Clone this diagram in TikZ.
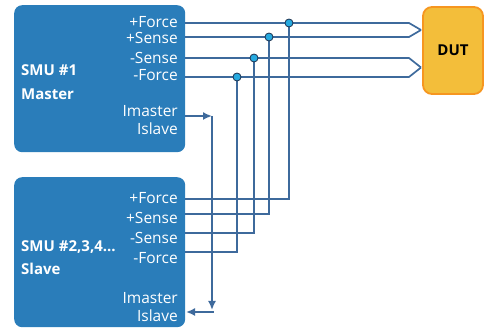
\documentclass[tikz,border=0pt]{standalone}
\usepackage{fontspec}
\setmainfont{Open Sans}
\usetikzlibrary{arrows.meta}
\definecolor{smublue}{RGB}{42,125,186}
\definecolor{wireblue}{RGB}{62,106,156}
\definecolor{dotcyan}{RGB}{38,170,224}
\definecolor{dotnavy}{RGB}{28,48,78}
\definecolor{dutyellow}{RGB}{243,190,58}
\definecolor{dutorange}{RGB}{246,150,32}

\begin{document}
\begin{tikzpicture}[x=1pt, y=-1pt,
    smu/.style={fill=smublue, rounded corners=8pt, anchor=north west, inner sep=0pt, minimum width=171pt},
    port/.style={anchor=base east, text=white, inner sep=0pt, font=\fontsize{15.5}{17}\selectfont},
    title/.style={anchor=base west, text=white, inner sep=0pt, font=\bfseries\fontsize{15}{17}\selectfont},
    wire/.style={draw=wireblue, line width=1.7pt},
    arrowwire/.style={wire, -{Latex[length=9pt,width=8pt]}},
    junction/.style={circle, fill=dotcyan, draw=dotnavy, line width=0.8pt, minimum size=8pt, inner sep=0pt}]
    \useasboundingbox (0,0) rectangle (485,328);

    % boxes
    \node[smu, minimum height=147pt] (M) at (14,5) {};
    \node[smu, minimum height=150pt] (S) at (14,177) {};
    \node[draw=dutorange, fill=dutyellow, line width=1.8pt, rounded corners=9pt,
          minimum width=60pt, minimum height=87pt, font=\bfseries\fontsize{15}{17}\selectfont] (dut) at (453,50.5) {DUT};

    % master labels
    \node[title] (mt1) at (21,75.7) {SMU \#1};
    \node[title] (mt2) at (21,99.3) {Master};
    \node[port] (mpfl) at (178,27.3) {+Force};
    \node[port] (mspl) at (178,43.8) {+Sense};
    \node[port] (msnl) at (178,63.3) {-Sense};
    \node[port] (mfnl) at (178,81) {-Force};
    \node[port] (miml) at (178,116.7) {Imaster};
    \node[port] (misl) at (178,135) {Islave};

    % slave labels
    \node[title] (st1) at (21,251.7) {SMU \#2,3,4...};
    \node[title] (st2) at (21,275) {Slave};
    \node[port] (spfl) at (178,203.3) {+Force};
    \node[port] (sspl) at (178,223.3) {+Sense};
    \node[port] (ssnl) at (178,243.3) {-Sense};
    \node[port] (sfnl) at (178,263.3) {-Force};
    \node[port] (siml) at (178,303.3) {Imaster};
    \node[port] (sisl) at (178,321.7) {Islave};

    % terminals
    \coordinate (mpf) at (185,23);
    \coordinate (msp) at (185,37);
    \coordinate (msn) at (185,58);
    \coordinate (mfn) at (185,77);
    \coordinate (mim) at (185,116);
    \coordinate (spf) at (185,199);
    \coordinate (ssp) at (185,214);
    \coordinate (ssn) at (185,233);
    \coordinate (sfn) at (185,252);
    \coordinate (sis) at (186,312);
    \coordinate (ibend) at (212,116);
    \coordinate (idown) at (212,310);
    \coordinate (iback) at (213.5,312);
    \coordinate (dp) at (421,30);
    \coordinate (dn) at (421,67.5);
    \coordinate (jpf) at (289,23);
    \coordinate (jsp) at (269,37);
    \coordinate (jsn) at (254,58);
    \coordinate (jfn) at (237,77);

    % master to DUT
    \draw[wire] (mpf) -- (409,23) -- (dp);
    \draw[wire] (msp) -- (409,37) -- (dp);
    \draw[wire] (msn) -- (409,58) -- (dn);
    \draw[wire] (mfn) -- (409,77) -- (dn);

    % slave to junctions
    \draw[wire] (jpf) |- (spf);
    \draw[wire] (jsp) |- (ssp);
    \draw[wire] (jsn) |- (ssn);
    \draw[wire] (jfn) |- (sfn);

    % current share
    \draw[arrowwire] (mim) -- (ibend);
    \draw[arrowwire] (ibend) -- (idown);
    \draw[arrowwire] (iback) -- (sis);

    \node[junction] (dpf) at (jpf) {};
    \node[junction] (dsp) at (jsp) {};
    \node[junction] (dsn) at (jsn) {};
    \node[junction] (dfn) at (jfn) {};
\end{tikzpicture}
\end{document}
